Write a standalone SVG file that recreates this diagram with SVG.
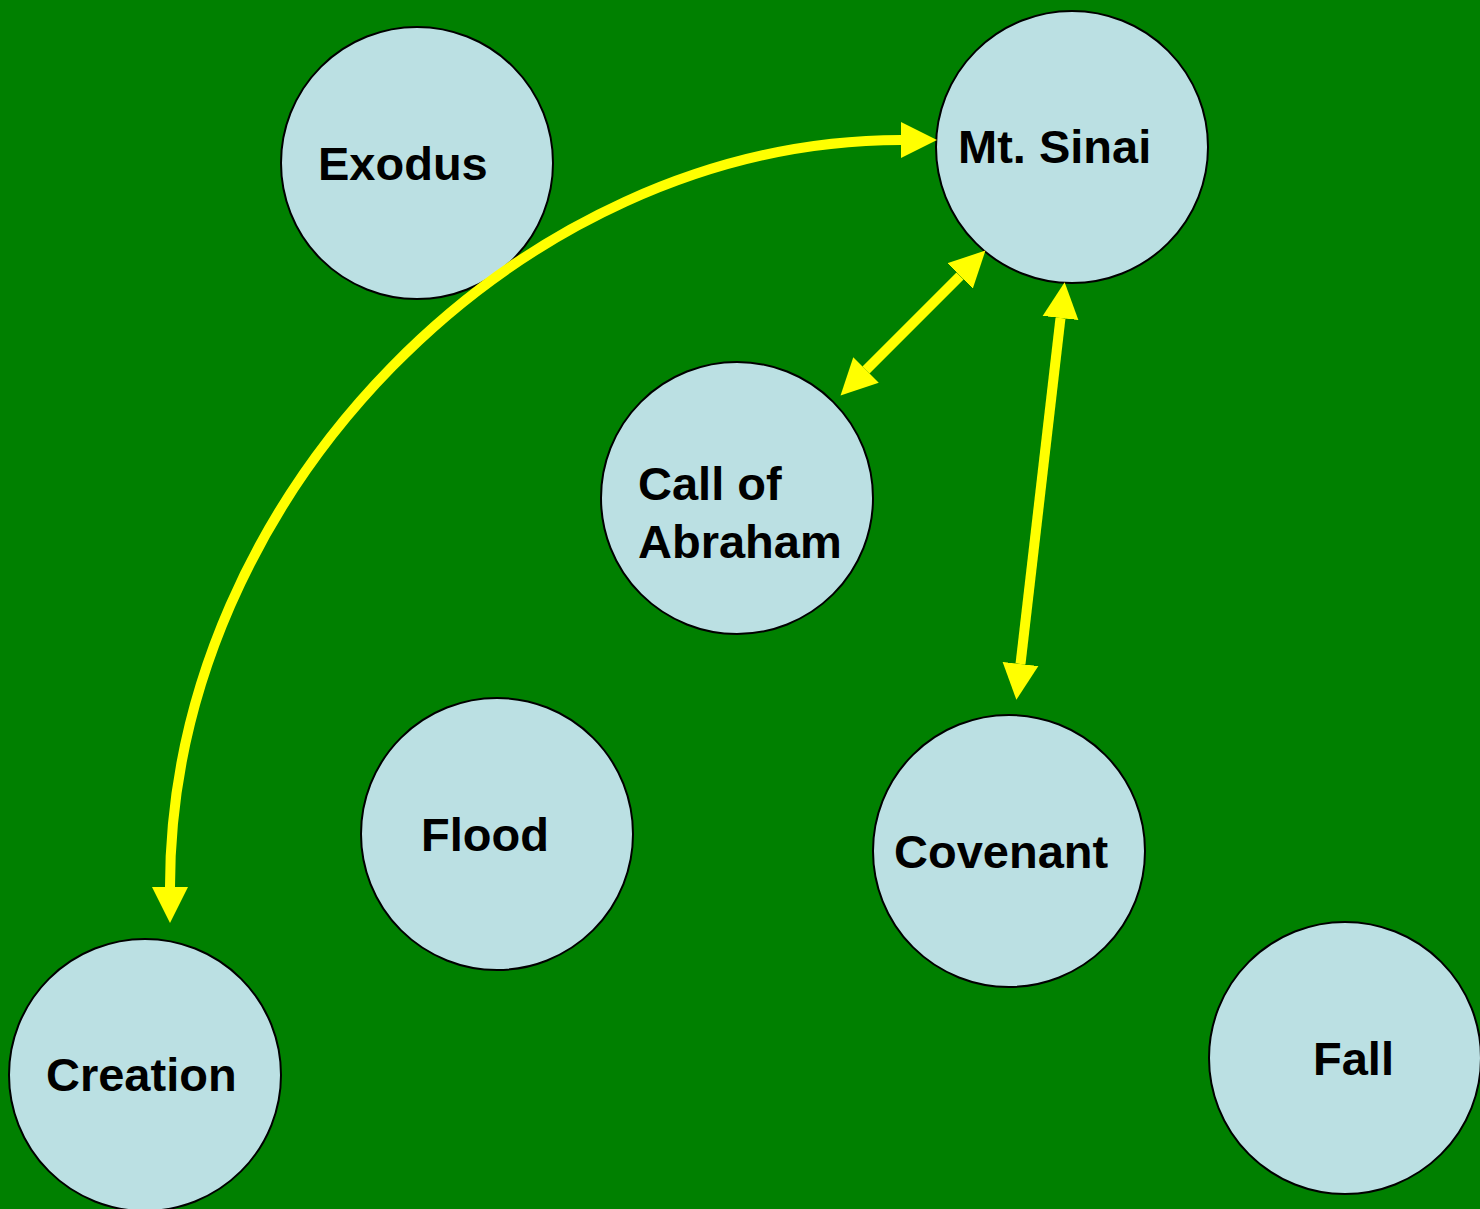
<svg xmlns="http://www.w3.org/2000/svg" width="1480" height="1209" viewBox="0 0 1480 1209">
<style>
.node circle{fill:#BBE0E3;stroke:#000;stroke-width:2}
.node text{font-family:"Liberation Sans",Arial,sans-serif;font-weight:bold;font-size:47px;fill:#000}
.conn path{fill:none;stroke:#FFFF00;stroke-width:10}
</style>
<defs>
<marker id="ah" markerUnits="userSpaceOnUse" markerWidth="40" markerHeight="40" refX="0" refY="18" viewBox="0 0 40 36" orient="auto-start-reverse">
<path d="M0,0 L36,18 L0,36 z" fill="#FFFF00"/>
</marker>
</defs>
<rect width="1480" height="1209" fill="#008000"/>
<g id="node-exodus" class="node"><circle cx="417" cy="163" r="136"/><text x="318" y="180">Exodus</text></g>
<g id="node-sinai" class="node"><circle cx="1072" cy="147" r="136"/><text x="958" y="163">Mt. Sinai</text></g>
<g id="node-abraham" class="node"><circle cx="737" cy="498" r="136"/><text x="638" y="500">Call of</text><text x="638" y="558">Abraham</text></g>
<g id="node-flood" class="node"><circle cx="497" cy="834" r="136"/><text x="421" y="851">Flood</text></g>
<g id="node-covenant" class="node"><circle cx="1009" cy="851" r="136"/><text x="894" y="868">Covenant</text></g>
<g id="node-creation" class="node"><circle cx="145" cy="1075" r="136"/><text x="46" y="1091">Creation</text></g>
<g id="node-fall" class="node"><circle cx="1345" cy="1058" r="136"/><text x="1313" y="1075">Fall</text></g>
<g id="connectors" class="conn">
<path d="M170,887 C170,496 518,140 901,140" marker-start="url(#ah)" marker-end="url(#ah)"/>
<path d="M866,370 L960,276" marker-start="url(#ah)" marker-end="url(#ah)"/>
<path d="M1020.5,664 L1060.5,318" marker-start="url(#ah)" marker-end="url(#ah)"/>
</g>
</svg>
